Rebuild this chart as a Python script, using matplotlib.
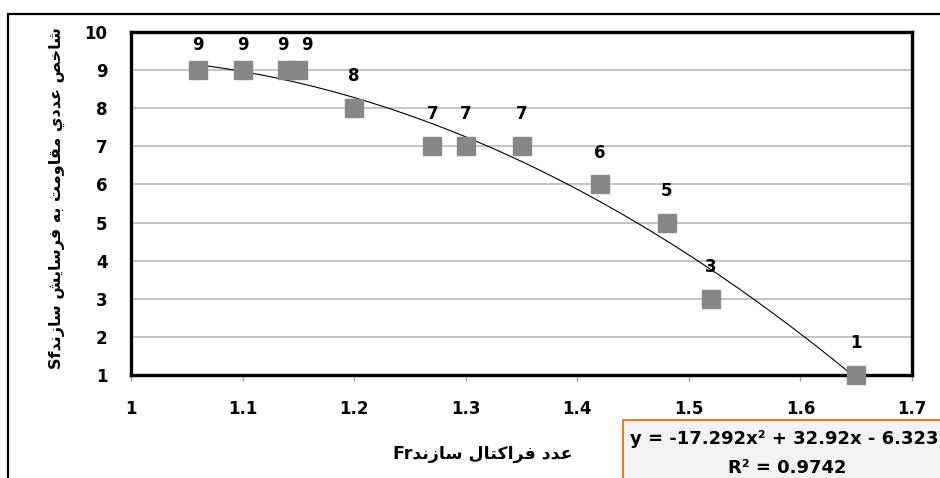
import matplotlib
matplotlib.use('Agg')
import numpy as np
import matplotlib.pyplot as plt
from matplotlib.patches import Rectangle

# data
fr = [1.06, 1.10, 1.14, 1.15, 1.20, 1.27, 1.30, 1.35, 1.42, 1.48, 1.52, 1.65]
sf = [9, 9, 9, 9, 8, 7, 7, 7, 6, 5, 3, 1]
coef = [-17.292, 32.92, -6.3237]
r2 = 0.9742
x_ticks = [1, 1.1, 1.2, 1.3, 1.4, 1.5, 1.6, 1.7]
x_tick_labels = ['1', '1.1', '1.2', '1.3', '1.4', '1.5', '1.6', '1.7']
y_ticks = list(range(1, 11))

ylabel_fa = 'شاخص عددي مقاومت به فرسايش سازند'
xlabel_fa = 'عدد فراكتال سازند'

# simple arabic shaping (matplotlib does no shaping / bidi)
FORMS = {  # iso, fin, ini, med
    'ا': (0xFE8D, 0xFE8E, None, None),
    'ب': (0xFE8F, 0xFE90, 0xFE91, 0xFE92),
    'ت': (0xFE95, 0xFE96, 0xFE97, 0xFE98),
    'خ': (0xFEA5, 0xFEA6, 0xFEA7, 0xFEA8),
    'د': (0xFEA9, 0xFEAA, None, None),
    'ر': (0xFEAD, 0xFEAE, None, None),
    'ز': (0xFEAF, 0xFEB0, None, None),
    'س': (0xFEB1, 0xFEB2, 0xFEB3, 0xFEB4),
    'ش': (0xFEB5, 0xFEB6, 0xFEB7, 0xFEB8),
    'ص': (0xFEB9, 0xFEBA, 0xFEBB, 0xFEBC),
    'ع': (0xFEC9, 0xFECA, 0xFECB, 0xFECC),
    'ف': (0xFED1, 0xFED2, 0xFED3, 0xFED4),
    'ق': (0xFED5, 0xFED6, 0xFED7, 0xFED8),
    'ك': (0xFED9, 0xFEDA, 0xFEDB, 0xFEDC),
    'ل': (0xFEDD, 0xFEDE, 0xFEDF, 0xFEE0),
    'م': (0xFEE1, 0xFEE2, 0xFEE3, 0xFEE4),
    'ن': (0xFEE5, 0xFEE6, 0xFEE7, 0xFEE8),
    'ه': (0xFEE9, 0xFEEA, 0xFEEB, 0xFEEC),
    'و': (0xFEED, 0xFEEE, None, None),
    'ي': (0xFEF1, 0xFEF2, 0xFEF3, 0xFEF4),
}


def shape(word):
    out = []
    for i, ch in enumerate(word):
        f = FORMS.get(ch)
        if f is None:
            out.append(ch)
            continue
        prev = word[i - 1] if i > 0 else ''
        nxt = word[i + 1] if i + 1 < len(word) else ''
        jp = prev in FORMS and FORMS[prev][2] is not None
        jn = f[2] is not None and nxt in FORMS
        if jp and jn:
            c = f[3]
        elif jp:
            c = f[1]
        elif jn:
            c = f[2]
        else:
            c = f[0]
        out.append(chr(c))
    return ''.join(out[::-1])


def rtl(text):
    return ' '.join(shape(w) for w in text.split()[::-1])


fig = plt.figure(figsize=(9.4, 4.78), dpi=100)
ax = fig.add_axes([131 / 940, 1 - 375 / 478, (912 - 131) / 940, (375 - 32) / 478])

# outer chart frame
fig.patches.append(Rectangle((8 / 940, -0.2), 1.5, 1.2 - 14 / 478, transform=fig.transFigure,
                             fill=False, edgecolor='black', linewidth=1.6))

ax.set_xlim(1, 1.7)
ax.set_ylim(1, 10)
ax.set_xticks(x_ticks)
ax.set_xticklabels(x_tick_labels)
ax.set_yticks(y_ticks)
ax.grid(axis='y', color='#b3b3b3', linewidth=1.1)
ax.set_axisbelow(True)
for s in ax.spines.values():
    s.set_linewidth(2.4)
    s.set_color('black')
ax.tick_params(axis='x', direction='out', length=4, width=1, color='#a0a0a0', pad=14)
ax.tick_params(axis='y', length=0, pad=17)
for lab in ax.get_xticklabels() + ax.get_yticklabels():
    lab.set_fontfamily('DejaVu Sans')
    lab.set_fontweight('bold')
    lab.set_fontsize(12)

# trendline over data range
xs = np.linspace(min(fr), max(fr), 200)
ax.plot(xs, np.polyval(coef, xs), color='black', linewidth=0.8, zorder=2)

ax.plot(fr, sf, linestyle='none', marker='s', markersize=13.5, color='#878787', zorder=3, clip_on=False)

for i, (x, y) in enumerate(zip(fr, sf)):
    dx = 0
    if i + 1 < len(fr) and fr[i + 1] - x < 0.02:
        dx = -3
    elif i > 0 and x - fr[i - 1] < 0.02:
        dx = 6
    dy = 18 if y >= 9 else 23
    ax.annotate(str(y), (x, y), xytext=(dx, dy), textcoords='offset points', ha='center', va='center',
                fontsize=12, fontfamily='DejaVu Sans', fontweight='bold', color='black',
                annotation_clip=False)

fig.text(57 / 940, 1 - 198 / 478, 'Sf' + rtl(ylabel_fa), rotation=90, fontsize=11.5, fontweight='bold',
         family=['DejaVu Sans'], ha='center', va='center')
fig.text(483 / 940, 1 - 454 / 478, 'Fr' + rtl(xlabel_fa),
         fontsize=12.5, fontweight='bold', family=['DejaVu Sans'], ha='center', va='center')

# trendline equation box
fig.patches.append(Rectangle((623 / 940, -0.2), 1.0, 0.2 + 1 - 420 / 478, transform=fig.transFigure,
                             facecolor='#f2f2f2', edgecolor='#ed7d31', linewidth=1.5))
fig.text(630 / 940, 1 - 439 / 478, 'y = %gx² + %gx - %g' % (coef[0], coef[1], -coef[2]),
         fontsize=13, fontfamily='DejaVu Sans', fontweight='bold', ha='left', va='center')
fig.text(787 / 940, 1 - 468 / 478, 'R² = %g' % r2,
         fontsize=13, fontfamily='DejaVu Sans', fontweight='bold', ha='center', va='center')

fig.savefig('out.png', dpi=100)
